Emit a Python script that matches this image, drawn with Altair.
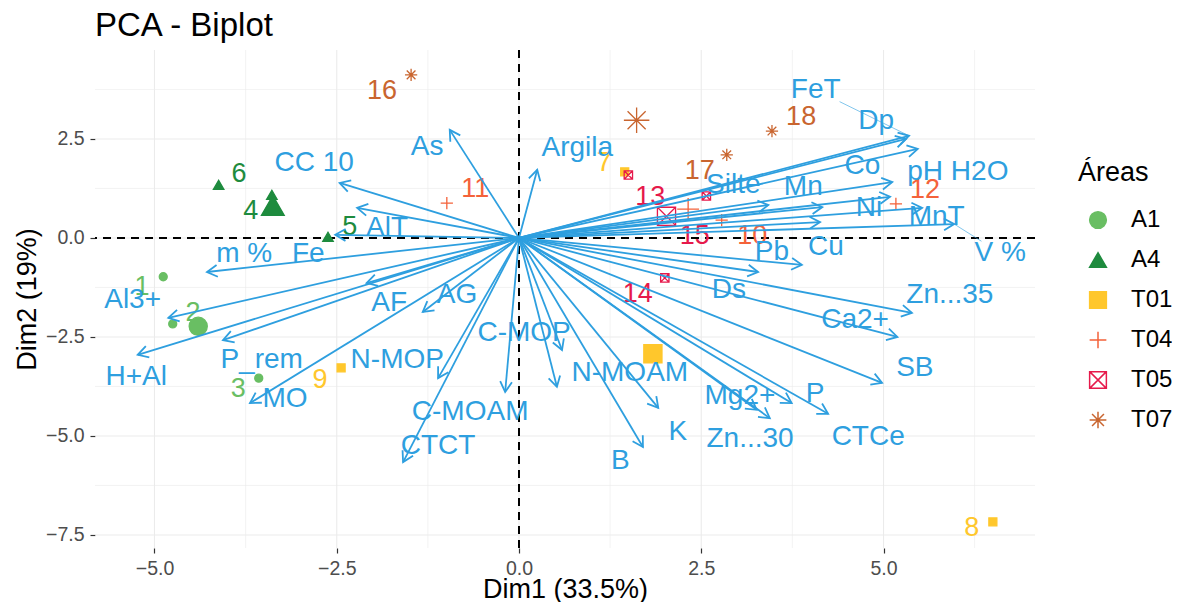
import math
import altair as alt
import numpy as np
import pandas as pd

# ---------------- data ----------------
var_names = ["As", "CC 10", "AlT", "Fe", "m %", "Al3+", "AF", "AG", "P_rem", "H+Al",
             "MO", "N-MOP", "C-MOAM", "CTCT", "C-MOP", "N-MOAM", "K", "B", "Mg2+",
             "Zn...30", "P", "CTCe", "SB", "Ca2+", "Zn...35", "Ds", "Pb", "Cu",
             "Silte", "Mn", "Co", "Ni", "MnT", "V %", "Dp", "FeT", "pH H2O", "Argila"]
var_dim1 = [-0.95, -2.46, -2.22, -2.52, -4.28, -4.81, -2.09, -1.32, -4.06, -5.23,
            -3.69, -1.11, -0.19, -1.59, 0.59, 0.52, 1.91, 1.70, 3.26,
            3.44, 3.74, 4.24, 4.98, 5.19, 5.39, 3.28, 3.88, 4.13,
            3.42, 4.16, 5.12, 5.09, 5.53, 5.97, 5.31, 5.35, 5.47, 0.25]
var_dim2 = [2.73, 1.39, 0.76, 0.08, -0.86, -2.02, -1.14, -1.87, -2.58, -2.95,
            -4.17, -3.54, -3.89, -5.66, -2.83, -3.76, -4.29, -5.28, -4.34,
            -4.55, -4.17, -4.44, -3.66, -2.50, -1.89, -0.86, -0.68, 0.40,
            0.83, 0.78, 1.41, 1.04, 0.76, 0.35, 2.50, 2.58, 2.25, 1.72]
var_lab_x = [-1.26, -2.81, -1.81, -2.89, -3.77, -5.30, -1.78, -0.85, -3.53, -5.25,
             -3.21, -1.67, -0.67, -1.11, 0.07, 1.52, 2.18, 1.39, 3.03,
             3.17, 4.06, 4.79, 5.43, 4.61, 5.91, 2.88, 3.47, 4.21,
             2.94, 3.90, 4.71, 4.80, 5.73, 6.60, 4.90, 4.07, 6.02, 0.80]
var_lab_y = [2.30, 1.89, 0.25, -0.40, -0.40, -1.57, -1.64, -1.44, -3.08, -3.51,
             -4.07, -3.08, -4.39, -5.25, -2.40, -3.41, -4.90, -5.63, -3.99,
             -5.08, -3.94, -5.03, -3.28, -2.07, -1.44, -1.31, -0.35, -0.23,
             1.34, 1.29, 1.82, 0.76, 0.53, -0.38, 2.95, 3.74, 1.67, 2.27]
leader_labels = ["FeT", "V %"]

ind_names = [str(i) for i in range(1, 19)]
ind_area = ["A1"] * 3 + ["A4"] * 3 + ["T01"] * 3 + ["T04"] * 3 + ["T05"] * 3 + ["T07"] * 3
ind_dim1 = [-4.88, -4.75, -3.57, -3.39, -2.62, -4.12, 1.45, 6.50, -2.44,
            2.78, -0.99, 5.17, 1.50, 2.00, 2.57, -1.48, 2.85, 3.47]
ind_dim2 = [-0.98, -2.17, -3.54, 1.09, 0.03, 1.34, 1.67, -7.17, -3.28,
            0.45, 0.88, 0.86, 1.59, -1.01, 1.06, 4.12, 2.10, 2.70]
ind_lab_x = [-5.17, -4.47, -3.85, -3.68, -2.32, -3.84, 1.17, 6.21, -2.73,
             3.20, -0.60, 5.57, 1.80, 1.63, 2.41, -1.88, 2.48, 3.87]
ind_lab_y = [-1.24, -1.89, -3.81, 0.68, 0.28, 1.62, 1.89, -7.32, -3.59,
             0.05, 1.24, 1.21, 1.04, -1.41, 0.05, 3.71, 1.69, 3.06]

areas = ["A1", "A4", "T01", "T04", "T05", "T07"]
x_ticks = [-5.0, -2.5, 0.0, 2.5, 5.0]
y_ticks = [-7.5, -5.0, -2.5, 0.0, 2.5]

# ---------------- styling ----------------
COLORS = ["#69BE63", "#1E8B3E", "#FFC72C", "#F4623A", "#E6194B", "#C9652F"]
PLUS = "M -1 0 L 1 0 M 0 -1 L 0 1"
BOXX = "M -1 -1 L 1 -1 L 1 1 L -1 1 Z M -1 -1 L 1 1 M 1 -1 L -1 1"
AST = "M -1 0 L 1 0 M 0 -1 L 0 1 M -0.71 -0.71 L 0.71 0.71 M 0.71 -0.71 L -0.71 0.71"
SHAPES = ["circle", "triangle-up", "square", PLUS, BOXX, AST]
FILLS = [COLORS[0], COLORS[1], COLORS[2], "transparent", "transparent", "transparent"]
IND_SIZE = {"A1": 64, "A4": 110, "T01": 64, "T04": 150, "T05": 70, "T07": 150}
MEAN_SIZE = {"A1": 330, "A4": 520, "T01": 330, "T04": 480, "T05": 330, "T07": 650}
BLUE = "#2E9FDF"
FONT = "Liberation Sans"
W, H = 940, 498
XDOM = [-5.816, 7.078]
YDOM = [-7.83, 4.747]
kx = W / (XDOM[1] - XDOM[0])
ky = H / (YDOM[1] - YDOM[0])
VAR_FS = 28
PT_FS = 27

# ---------------- tables ----------------
vdf = pd.DataFrame({"name": var_names, "x": var_dim1, "y": var_dim2,
                    "lx": var_lab_x, "ly": var_lab_y})
vdf["o"] = 0.0
vdf["ang"] = [math.degrees(math.atan2(dx * kx, dy * ky)) % 360 for dx, dy in zip(vdf.x, vdf.y)]

# leader lines (label box edge -> arrow tip)
lead_rows = []
for _, r in vdf[vdf.name.isin(leader_labels)].iterrows():
    vx = (r.x - r.lx) * kx
    vy = (r.y - r.ly) * ky
    hw = 0.29 * VAR_FS * len(r["name"])
    hh = 0.42 * VAR_FS
    t = min(hw / abs(vx) if vx else 1e9, hh / abs(vy) if vy else 1e9)
    lead_rows.append({"x1": r.lx + t * (r.x - r.lx), "y1": r.ly + t * (r.y - r.ly),
                      "x2": r.x, "y2": r.y})
ldf = pd.DataFrame(lead_rows)

idf = pd.DataFrame({"name": ind_names, "area": ind_area, "x": ind_dim1, "y": ind_dim2,
                    "lx": ind_lab_x, "ly": ind_lab_y})
idf["sz"] = idf.area.map(IND_SIZE)
mdf = idf.groupby("area", as_index=False)[["x", "y"]].mean()
mdf["sz"] = mdf.area.map(MEAN_SIZE)
pdf = pd.concat([idf[["area", "x", "y", "sz"]], mdf[["area", "x", "y", "sz"]]], ignore_index=True)
idf["hex"] = idf.area.map(dict(zip(areas, COLORS)))

major_x = np.arange(-5.0, 7.01, 2.5)
minor_x = np.arange(-3.75, 7.01, 2.5)
major_y = np.arange(-7.5, 4.75, 2.5)
minor_y = np.arange(-6.25, 4.75, 2.5)
gx = pd.DataFrame({"v": list(major_x) + list(minor_x),
                   "w": [1.1] * len(major_x) + [0.6] * len(minor_x)})
gy = pd.DataFrame({"v": list(major_y) + list(minor_y),
                   "w": [1.1] * len(major_y) + [0.6] * len(minor_y)})

xs = alt.Scale(domain=XDOM, nice=False, zero=False)
ys = alt.Scale(domain=YDOM, nice=False, zero=False)
xax = alt.Axis(values=x_ticks, format=".1f", title="Dim1 (33.5%)", grid=False,
               titleY=49, titleBaseline="alphabetic")
yax = alt.Axis(values=y_ticks, format=".1f", title="Dim2 (19%)", grid=False,
               titleX=-60, titleBaseline="alphabetic")

X = lambda f: alt.X(f, type="quantitative", scale=xs, axis=xax)
Y = lambda f: alt.Y(f, type="quantitative", scale=ys, axis=yax)

grid_x = alt.Chart(gx).mark_rule(color="#EBEBEB").encode(
    x=X("v"), strokeWidth=alt.StrokeWidth("w:Q", scale=None))
grid_y = alt.Chart(gy).mark_rule(color="#EBEBEB").encode(
    y=Y("v"), strokeWidth=alt.StrokeWidth("w:Q", scale=None))

zero = pd.DataFrame({"v": [0.0]})
vline = alt.Chart(zero).mark_rule(color="black", strokeDash=[8, 6], strokeWidth=2).encode(x=X("v"))
hline = alt.Chart(zero).mark_rule(color="black", strokeDash=[8, 6], strokeWidth=2).encode(y=Y("v"))

points = alt.Chart(pdf).mark_point(filled=False, strokeWidth=1.3, opacity=1).encode(
    x=X("x"), y=Y("y"),
    color=alt.Color("area:N", scale=alt.Scale(domain=areas, range=COLORS),
                    legend=alt.Legend(title="Áreas")),
    fill=alt.Fill("area:N", scale=alt.Scale(domain=areas, range=FILLS),
                  legend=alt.Legend(title="Áreas")),
    shape=alt.Shape("area:N", scale=alt.Scale(domain=areas, range=SHAPES),
                    legend=alt.Legend(title="Áreas")),
    size=alt.Size("sz:Q", scale=None),
)

pt_labels = alt.Chart(idf).mark_text(fontSize=PT_FS, font=FONT, baseline="middle",
                                     align="center").encode(
    x=X("lx"), y=Y("ly"), text="name:N", color=alt.Color("hex:N", scale=None))

arrows = alt.Chart(vdf).mark_rule(color=BLUE, strokeWidth=1.8).encode(
    x=X("o"), y=Y("o"), x2="x", y2="y")
heads = alt.Chart(vdf).mark_point(shape="M -0.5 0.87 L 0 0 L 0.5 0.87", filled=False,
                                  color=BLUE, strokeWidth=1.8, size=560, opacity=1).encode(
    x=X("x"), y=Y("y"), angle=alt.Angle("ang:Q", scale=None))
leads = alt.Chart(ldf).mark_rule(color=BLUE, strokeWidth=0.6).encode(
    x=X("x1"), y=Y("y1"), x2="x2", y2="y2")
var_labels = alt.Chart(vdf).mark_text(fontSize=VAR_FS, font=FONT, color=BLUE,
                                      baseline="middle", align="center").encode(
    x=X("lx"), y=Y("ly"), text="name:N")

chart = alt.layer(
    grid_x, grid_y, vline, hline, points, pt_labels, arrows, heads, leads, var_labels
).properties(
    width=W, height=H,
    title=alt.TitleParams("PCA - Biplot", anchor="start", frame="group", fontSize=33,
                          font=FONT, fontWeight="normal", color="black", offset=6),
    autosize=alt.AutoSizeParams(type="none"),
    padding={"left": 87, "top": 42, "right": 137, "bottom": 54},
).configure_view(stroke=None).configure_axis(
    domain=False, labelFont=FONT, titleFont=FONT, labelFontSize=19.5, labelColor="#4D4D4D",
    tickColor="#333333", tickSize=5, tickWidth=1.2, titleFontSize=27,
    titleFontWeight="normal", titleColor="black", labelPadding=6,
).configure_legend(
    orient="none", legendX=983, legendY=110, titleFont=FONT, labelFont=FONT,
    titleFontSize=27, titleFontWeight="normal", titleColor="black", labelFontSize=24,
    labelColor="black", symbolSize=280, symbolStrokeWidth=1.5, rowPadding=16,
    titlePadding=21, symbolOffset=8, labelOffset=21,
)

chart.save("out.html", embed_options={"renderer": "svg", "actions": False})
